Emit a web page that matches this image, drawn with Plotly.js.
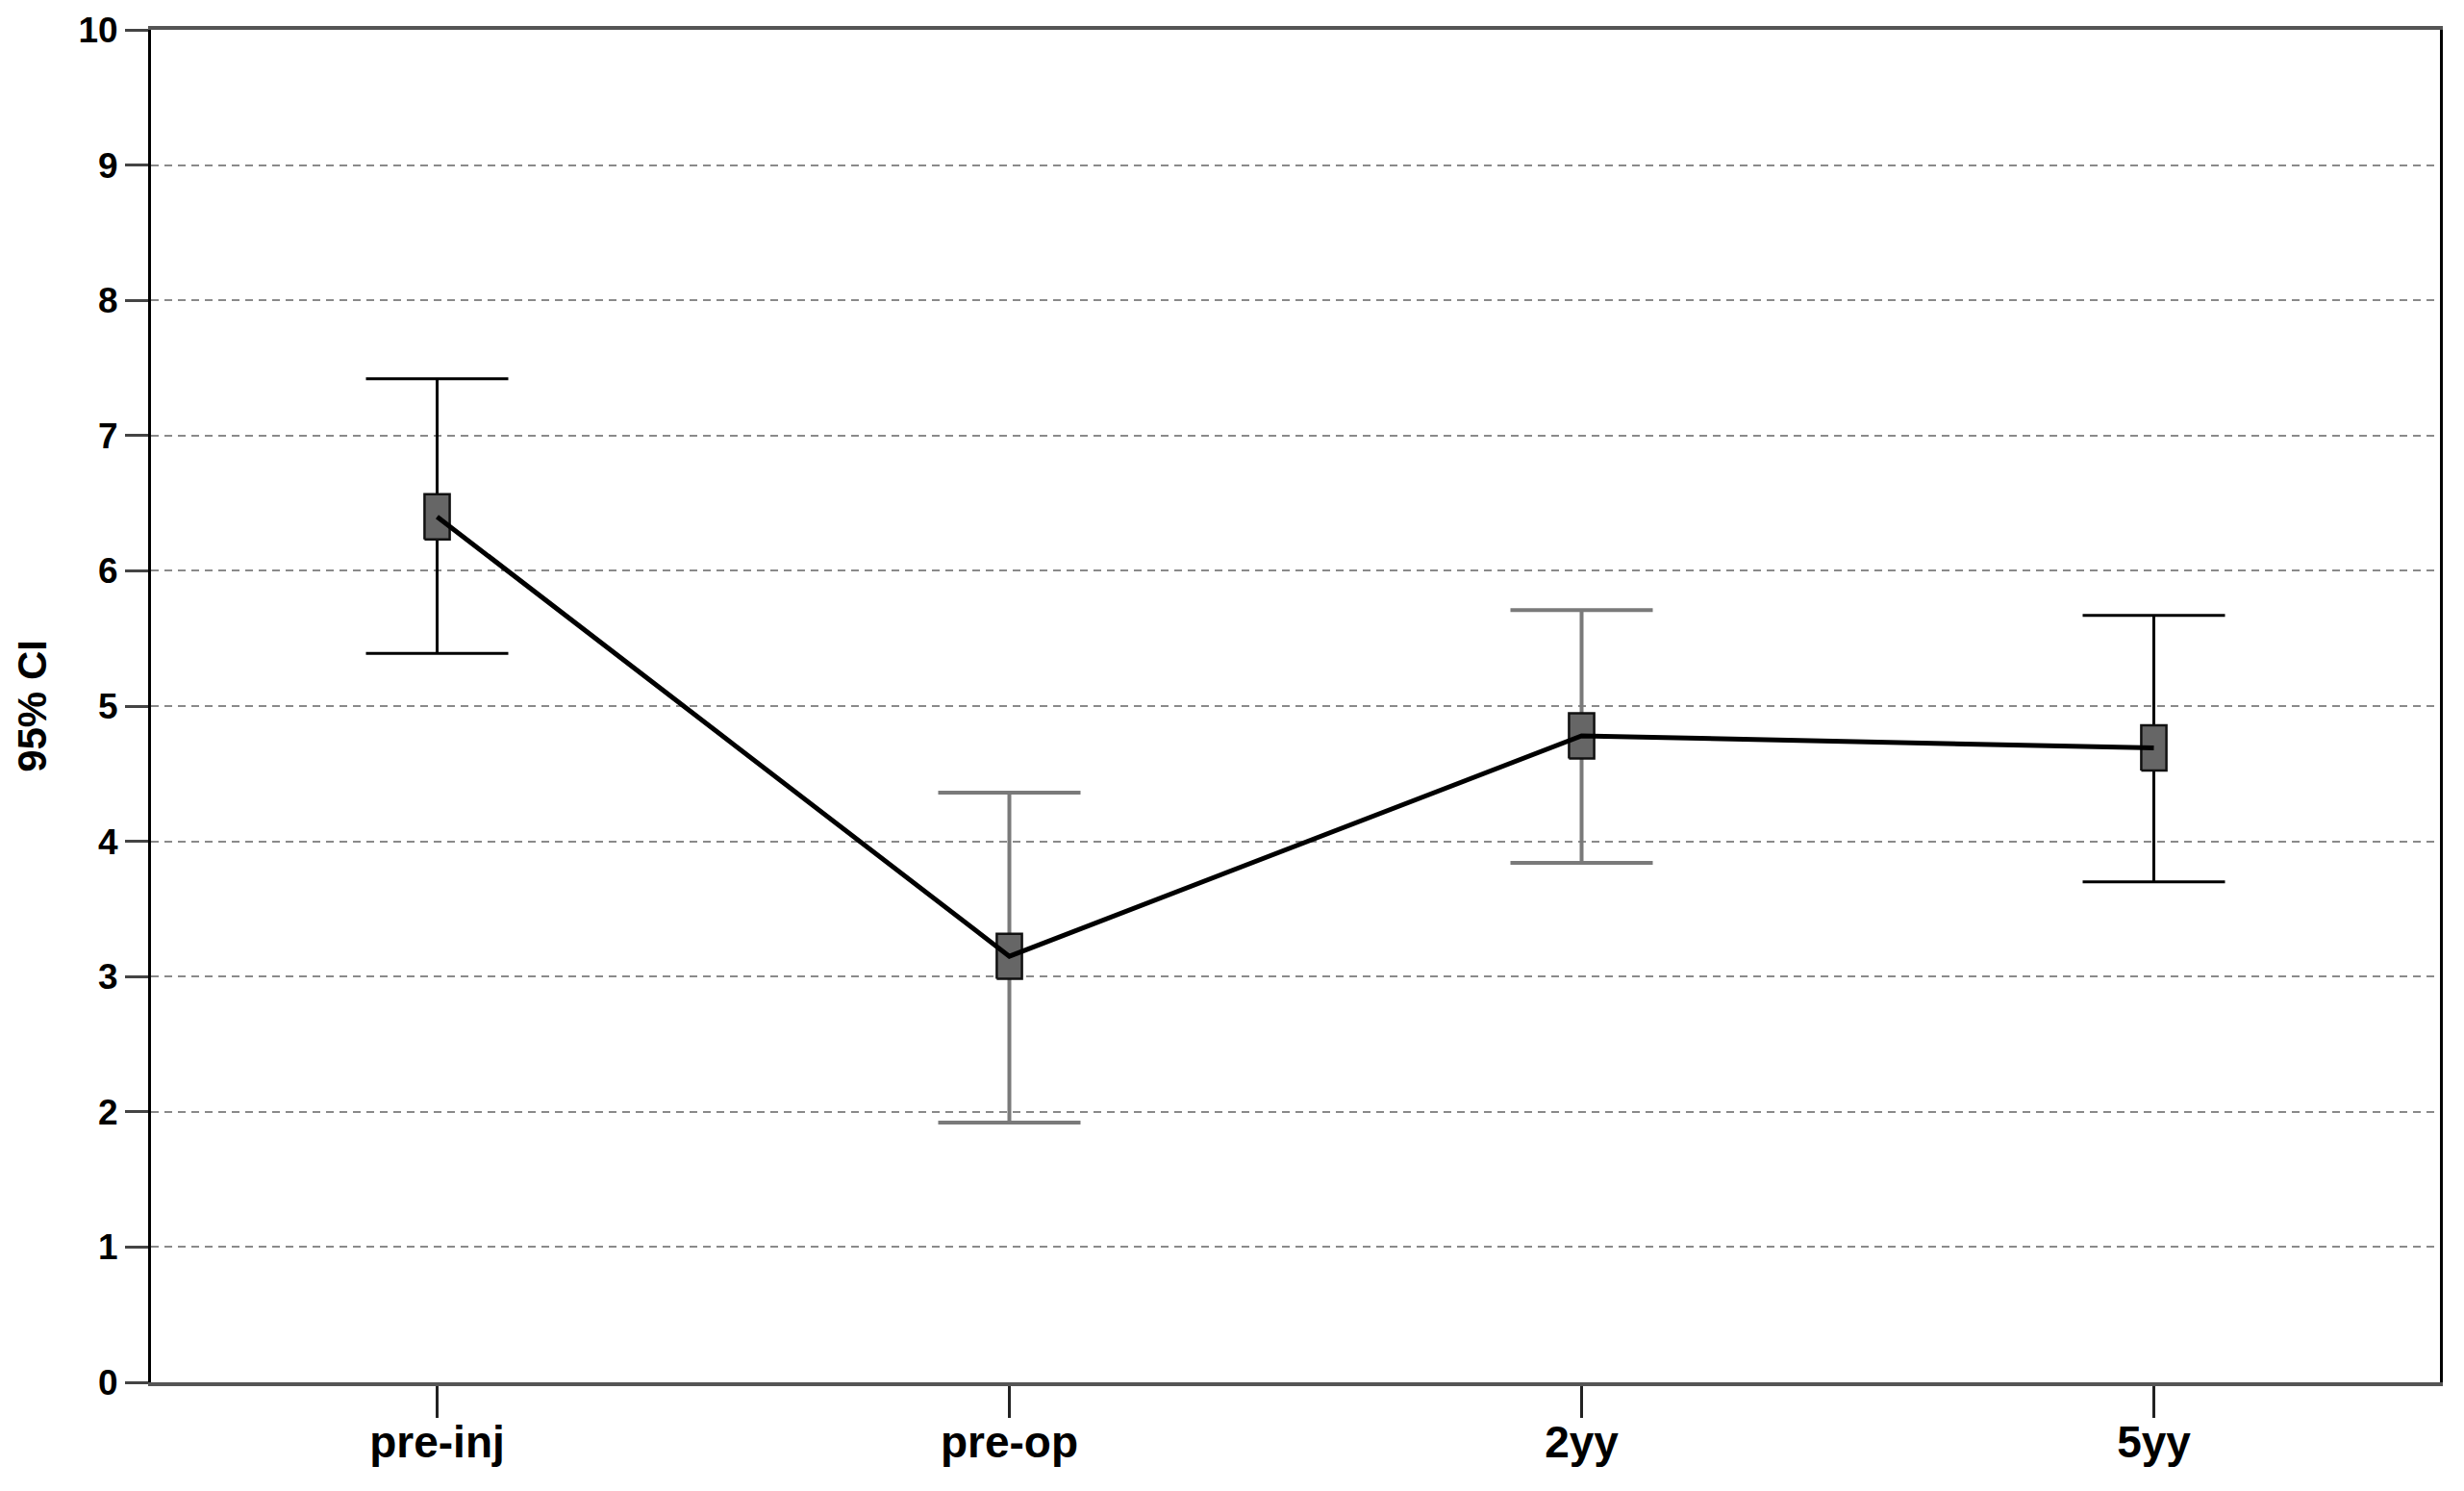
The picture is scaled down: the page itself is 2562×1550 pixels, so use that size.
<!DOCTYPE html>
<html>
<head>
<meta charset="utf-8">
<script src="https://cdn.plot.ly/plotly-3.0.1.min.js"></script>
<style>
  html, body { margin: 0; padding: 0; background: #ffffff; }
  #chart { width: 2562px; height: 1550px; }
</style>
</head>
<body>
<div id="chart"></div>
<script>
// ---- data ----
const categories = ["pre-inj", "pre-op", "2yy", "5yy"];
const meanValues = [6.40, 3.15, 4.78, 4.69];
const ciUpper    = [7.42, 4.36, 5.71, 5.67];
const ciLower    = [5.39, 1.92, 3.84, 3.70];
const yTickValues = [0, 1, 2, 3, 4, 5, 6, 7, 8, 9, 10];

// ---- styles (not data) ----
const errColors = ["#000000", "#7a7a7a", "#7a7a7a", "#000000"];
const errThick  = [3, 4, 4, 3];
const boxHalfW = 0.022;   // in category units
const boxHalfH = 0.167;   // in y units

const xIdx = categories.map((c, i) => i);
const traces = [];

// error bars (one trace per category so each can have its own colour)
categories.forEach((c, i) => {
  traces.push({
    type: "scatter",
    mode: "markers",
    x: [xIdx[i]],
    y: [meanValues[i]],
    marker: { size: 1, opacity: 0 },
    error_y: {
      type: "data",
      symmetric: false,
      array: [ciUpper[i] - meanValues[i]],
      arrayminus: [meanValues[i] - ciLower[i]],
      color: errColors[i],
      thickness: errThick[i],
      width: 74
    },
    hoverinfo: "skip",
    showlegend: false
  });
});

// mean boxes (rectangular markers)
categories.forEach((c, i) => {
  const x0 = xIdx[i] - boxHalfW, x1 = xIdx[i] + boxHalfW;
  const y0 = meanValues[i] - boxHalfH, y1 = meanValues[i] + boxHalfH;
  traces.push({
    type: "scatter",
    mode: "lines",
    x: [x0, x1, x1, x0, x0],
    y: [y0, y0, y1, y1, y0],
    fill: "toself",
    fillcolor: "#666666",
    line: { color: "#111111", width: 2.5 },
    hoverinfo: "skip",
    showlegend: false
  });
});

// mean line
traces.push({
  type: "scatter",
  mode: "lines",
  x: xIdx,
  y: meanValues,
  line: { color: "#000000", width: 5 },
  showlegend: false
});

const layout = {
  width: 2562,
  height: 1550,
  paper_bgcolor: "#ffffff",
  plot_bgcolor: "#ffffff",
  margin: { l: 157, r: 25, t: 31, b: 113 },
  showlegend: false,
  font: { family: "Liberation Sans, Arial, sans-serif", color: "#000000" },
  xaxis: {
    range: [-0.5, 3.5],
    tickmode: "array",
    tickvals: xIdx,
    ticktext: categories,
    ticks: "outside",
    ticklen: 33,
    tickwidth: 3,
    tickcolor: "#222222",
    ticklabelstandoff: -14,
    tickfont: { size: 46, family: "Liberation Sans, Arial, sans-serif", weight: "bold", color: "#000000" },
    showgrid: false,
    zeroline: false,
    showline: true,
    linecolor: "#555555",
    linewidth: 4,
    mirror: true
  },
  yaxis: {
    range: [0, 10],
    tickmode: "array",
    tickvals: yTickValues,
    ticktext: yTickValues.map(String),
    ticks: "outside",
    ticklen: 24,
    tickwidth: 3,
    tickcolor: "#444444",
    tickfont: { size: 37, family: "Liberation Sans, Arial, sans-serif", weight: "bold", color: "#000000" },
    showgrid: true,
    gridcolor: "#8a8a8a",
    gridwidth: 2,
    griddash: "8px,6px",
    zeroline: false,
    showline: true,
    linecolor: "#000000",
    linewidth: 3,
    mirror: true,
    title: {
      text: "95% CI",
      font: { size: 42, family: "Liberation Sans, Arial, sans-serif", weight: "bold", color: "#000000" },
      standoff: 20
    }
  }
};

Plotly.newPlot("chart", traces, layout, { staticPlot: true, displayModeBar: false });
</script>
</body>
</html>
